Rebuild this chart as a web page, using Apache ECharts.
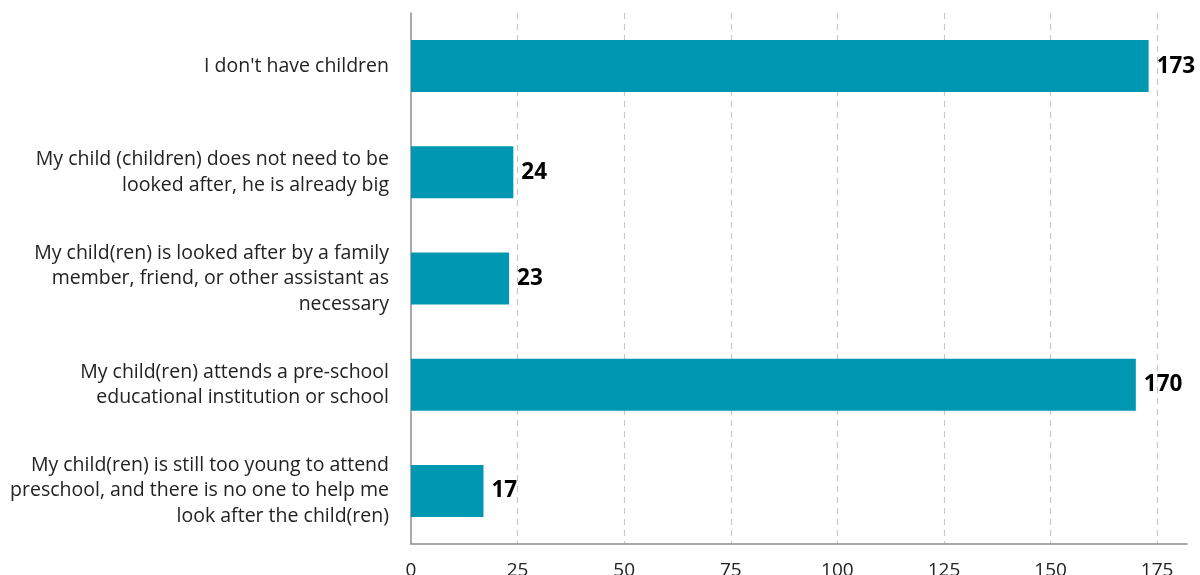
<!DOCTYPE html>
<html>
<head>
<meta charset="utf-8">
<style>
  html, body { margin: 0; padding: 0; background: #fff; }
  #chart { width: 1200px; height: 575px; }
</style>
<script src="https://cdn.jsdelivr.net/npm/echarts@6/dist/echarts.min.js"></script>
</head>
<body>
<div id="chart"></div>
<script>
// Survey answers about childcare, listed top to bottom
const categories = [
  "I don't have children",
  "My child (children) does not need to be\nlooked after, he is already big",
  "My child(ren) is looked after by a family\nmember, friend, or other assistant as\nnecessary",
  "My child(ren) attends a pre-school\neducational institution or school",
  "My child(ren) is still too young to attend\npreschool, and there is no one to help me\nlook after the child(ren)"
];
const counts = [173, 24, 23, 170, 17];
const axisMax = 182;
const tickStep = 25;

const chart = echarts.init(document.getElementById('chart'));
chart.setOption({
  animation: false,
  textStyle: { fontFamily: '"Open Sans", sans-serif' },
  grid: {
    left: 411, right: 13, top: 13, bottom: 31,
    containLabel: false,
    outerBoundsMode: 'none'
  },
  xAxis: {
    type: 'value',
    min: 0,
    max: axisMax,
    interval: tickStep,
    axisLine: { show: true, lineStyle: { color: '#8c8c8c', width: 1.5 } },
    axisTick: { show: false },
    axisLabel: {
      showMaxLabel: false,
      color: '#222',
      fontSize: 19,
      margin: 17,
      fontFamily: '"Open Sans", sans-serif'
    },
    splitLine: {
      show: true,
      showMinLine: false,
      showMaxLine: false,
      lineStyle: { color: '#c8c8c8', type: [6, 5], width: 1.2 }
    }
  },
  yAxis: {
    type: 'category',
    data: categories,
    inverse: true,
    axisLine: { show: true, lineStyle: { color: '#8c8c8c', width: 1.5 } },
    axisTick: { show: false },
    axisLabel: {
      color: '#222',
      fontSize: 19.5,
      lineHeight: 25.5,
      margin: 22,
      align: 'right',
      fontFamily: '"Open Sans", sans-serif'
    },
    splitLine: { show: false }
  },
  series: [{
    type: 'bar',
    data: counts,
    barWidth: '49%',
    itemStyle: { color: '#0097b2' },
    label: {
      show: true,
      position: 'right',
      distance: 8,
      color: '#000',
      fontSize: 22.5,
      fontWeight: 'bold',
      fontFamily: '"Open Sans", sans-serif'
    }
  }]
});
</script>
</body>
</html>
